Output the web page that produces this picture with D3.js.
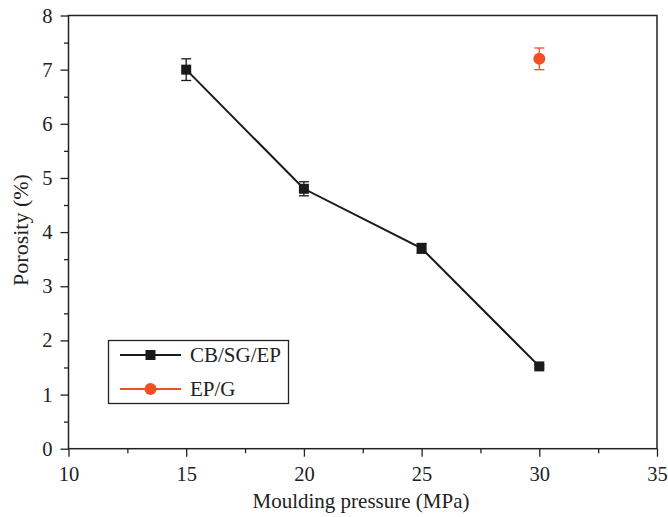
<!DOCTYPE html>
<html>
<head>
<meta charset="utf-8">
<script src="https://cdn.jsdelivr.net/npm/d3@7"></script>
<style>
  body { margin: 0; background: #fff; }
  svg { display: block; font-family: "Liberation Serif", "Times New Roman", serif; }
</style>
</head>
<body>
<svg id="chart" width="668" height="517"></svg>
<script>
// Porosity versus moulding pressure
const cbPressure = [15, 20, 25, 30];
const cbPorosity = [7.0, 4.8, 3.7, 1.52];
const cbError = [0.2, 0.13, 0.09, 0.03];

const epPressure = [30];
const epPorosity = [7.2];
const epError = [0.2];

const xTicks = [10, 15, 20, 25, 30, 35];
const yTicks = [0, 1, 2, 3, 4, 5, 6, 7, 8];

const seriesNames = ["CB/SG/EP", "EP/G"];
const black = "#1a1a1a";
const orange = "#f05023";

const svg = d3.select("#chart");
const plotLeft = 68.5, plotRight = 657, plotTop = 15.5, plotBottom = 448.7;

const x = d3.scaleLinear().domain([10, 35]).range([plotLeft, plotRight]);
const y = d3.scaleLinear().domain([0, 8]).range([plotBottom, plotTop]);

// minor ticks
const xMinor = d3.range(12.5, 35, 5);
const yMinor = d3.range(0.5, 8, 1);

const axisStyle = g => {
  g.select(".domain").remove();
  g.selectAll("line").attr("stroke", "#222").attr("stroke-width", 1.3);
  g.selectAll("text").attr("font-size", 20.5).attr("fill", "#222")
    .attr("font-family", "Liberation Serif, serif");
};

svg.append("g").attr("transform", `translate(0,${plotBottom})`)
  .call(d3.axisBottom(x).tickValues(xMinor).tickSize(4.5).tickFormat(""))
  .call(axisStyle);
svg.append("g").attr("transform", `translate(0,${plotBottom})`)
  .call(d3.axisBottom(x).tickValues(xTicks).tickSize(8).tickPadding(10).tickFormat(d3.format("d")))
  .call(axisStyle);
svg.append("g").attr("transform", `translate(${plotLeft},0)`)
  .call(d3.axisLeft(y).tickValues(yMinor).tickSize(4.5).tickFormat(""))
  .call(axisStyle);
svg.append("g").attr("transform", `translate(${plotLeft},0)`)
  .call(d3.axisLeft(y).tickValues(yTicks).tickSize(8).tickPadding(8).tickFormat(d3.format("d")))
  .call(axisStyle);

// frame
svg.append("rect")
  .attr("x", plotLeft).attr("y", plotTop)
  .attr("width", plotRight - plotLeft).attr("height", plotBottom - plotTop)
  .attr("fill", "none").attr("stroke", "#222").attr("stroke-width", 1.5);

// axis titles
svg.append("text")
  .attr("x", 361).attr("y", 508)
  .attr("text-anchor", "middle").attr("font-size", 21).attr("fill", "#222")
  .text("Moulding pressure (MPa)");
svg.append("text")
  .attr("transform", "translate(28,230) rotate(-90)")
  .attr("text-anchor", "middle").attr("font-size", 22).attr("fill", "#222")
  .text("Porosity (%)");

const plot = svg.append("g");

const cbData = cbPressure.map((p, i) => ({ p, v: cbPorosity[i], e: cbError[i] }));
const epData = epPressure.map((p, i) => ({ p, v: epPorosity[i], e: epError[i] }));

// CB/SG/EP connecting line
plot.append("path")
  .datum(cbData)
  .attr("fill", "none").attr("stroke", black).attr("stroke-width", 2)
  .attr("d", d3.line().x(d => x(d.p)).y(d => y(d.v)));

function errorBars(data, color) {
  const g = plot.append("g").attr("stroke", color).attr("stroke-width", 1.3);
  data.forEach(d => {
    const cx = x(d.p), y1 = y(d.v + d.e), y2 = y(d.v - d.e);
    g.append("line").attr("x1", cx).attr("x2", cx).attr("y1", y1).attr("y2", y2);
    g.append("line").attr("x1", cx - 5).attr("x2", cx + 5).attr("y1", y1).attr("y2", y1);
    g.append("line").attr("x1", cx - 5).attr("x2", cx + 5).attr("y1", y2).attr("y2", y2);
  });
}
errorBars(cbData, black);
errorBars(epData, orange);

const sq = 10;
plot.selectAll("rect.cb").data(cbData).enter().append("rect")
  .attr("class", "cb")
  .attr("x", d => x(d.p) - sq / 2).attr("y", d => y(d.v) - sq / 2)
  .attr("width", sq).attr("height", sq).attr("fill", black);

plot.selectAll("circle.ep").data(epData).enter().append("circle")
  .attr("class", "ep")
  .attr("cx", d => x(d.p)).attr("cy", d => y(d.v)).attr("r", 6)
  .attr("fill", orange);

// legend
const lg = svg.append("g");
lg.append("rect").attr("x", 108.5).attr("y", 340.5).attr("width", 180).attr("height", 63)
  .attr("fill", "#fff").attr("stroke", "#222").attr("stroke-width", 1.3);
const rows = [
  { name: seriesNames[0], color: black, shape: "square", y: 355 },
  { name: seriesNames[1], color: orange, shape: "circle", y: 389 }
];
rows.forEach(r => {
  lg.append("line").attr("x1", 120).attr("x2", 181).attr("y1", r.y).attr("y2", r.y)
    .attr("stroke", r.color).attr("stroke-width", 2);
  if (r.shape === "square") {
    lg.append("rect").attr("x", 150.5 - 5).attr("y", r.y - 5).attr("width", 10).attr("height", 10)
      .attr("fill", r.color);
  } else {
    lg.append("circle").attr("cx", 150.5).attr("cy", r.y).attr("r", 6).attr("fill", r.color);
  }
  lg.append("text").attr("x", 190).attr("y", r.y + 7).attr("font-size", 21).attr("fill", "#222")
    .text(r.name);
});
</script>
</body>
</html>
